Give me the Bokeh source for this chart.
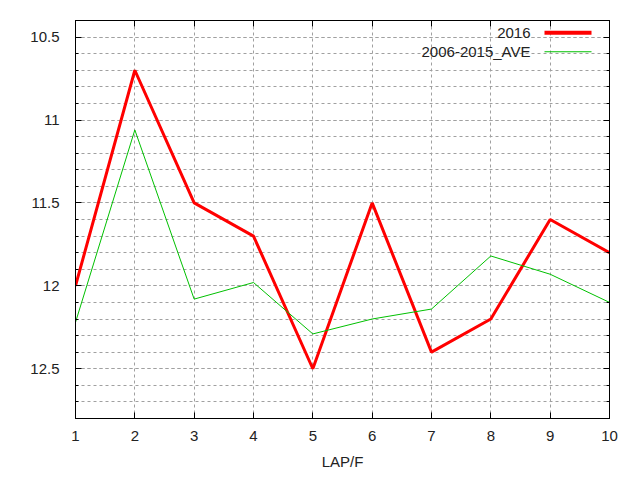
from bokeh.plotting import figure
from bokeh.models import (Range1d, FixedTicker, LinearAxis, Label, BoxAnnotation,
                          ColumnDataSource)
from bokeh.embed import file_html
from bokeh.resources import INLINE

# ---- data ----
laps = [1, 2, 3, 4, 5, 6, 7, 8, 9, 10]
y2016 = [12.0, 10.7, 11.5, 11.7, 12.5, 11.5, 12.4, 12.2, 11.6, 11.8]
y_ave = [12.22, 11.06, 12.08, 11.98, 12.29, 12.20, 12.14, 11.82, 11.93, 12.10]
series_names = ["2016", "2006-2015_AVE"]
x_ticks = [1, 2, 3, 4, 5, 6, 7, 8, 9, 10]
y_major = [10.5, 11.0, 11.5, 12.0, 12.5]
y_minor = [10.4, 10.5, 10.6, 10.7, 10.8, 10.9, 11.0, 11.1, 11.2, 11.3, 11.4, 11.5,
           11.6, 11.7, 11.8, 11.9, 12.0, 12.1, 12.2, 12.3, 12.4, 12.5, 12.6, 12.7, 12.8]
x_label = "LAP/F"

FONT = "Liberation Sans"
FS = "15px"
RED = "#ff0000"
GREEN = "#00c000"
GRID = "#a0a0a0"

W, H = 632, 472
ML, MR, MT, MB = 75, 23, 20, 53
FRAME_H = H - MT - MB

p = figure(width=W, height=H, output_backend="svg", toolbar_location=None,
           x_range=Range1d(1, 10), y_range=Range1d(12.8, 10.4),
           min_border_left=ML, min_border_right=MR, min_border_top=MT,
           min_border_bottom=MB, x_axis_label=x_label)
p.outline_line_color = "black"
p.outline_line_width = 1
p.background_fill_color = "white"
p.border_fill_color = "white"

xt = FixedTicker(ticks=x_ticks)
yt = FixedTicker(ticks=y_major, minor_ticks=y_minor)

def style_axis(ax, labels=True):
    ax.axis_line_color = "black"
    ax.major_tick_line_color = "black"
    ax.minor_tick_line_color = "black"
    ax.major_tick_in = 6
    ax.major_tick_out = 0
    ax.minor_tick_in = 3
    ax.minor_tick_out = 0
    if labels:
        ax.major_label_text_font = FONT
        ax.major_label_text_font_size = FS
        ax.major_label_text_color = "#222222"
    else:
        ax.major_label_text_font_size = "1px"
        ax.major_label_text_color = None
        ax.major_label_standoff = 0

xa = p.xaxis[0]
xa.ticker = xt
style_axis(xa)
xa.minor_tick_line_color = None
xa.major_label_standoff = 12
xa.axis_label_text_font = FONT
xa.axis_label_text_font_size = FS
xa.axis_label_text_font_style = "normal"
xa.axis_label_text_color = "#222222"
xa.axis_label_standoff = 9

ya = p.yaxis[0]
ya.ticker = yt
style_axis(ya)
ya.major_label_standoff = 16

top = LinearAxis(ticker=xt)
style_axis(top, labels=False)
top.minor_tick_line_color = None
p.add_layout(top, "above")

right = LinearAxis(ticker=yt)
style_axis(right, labels=False)
p.add_layout(right, "right")

p.xgrid.ticker = xt
p.ygrid.ticker = yt
for g in (p.xgrid[0], p.ygrid[0]):
    g.grid_line_color = GRID
    g.grid_line_dash = "3 3"
    g.grid_line_width = 1
p.ygrid[0].minor_grid_line_color = GRID
p.ygrid[0].minor_grid_line_dash = "3 3"

src = ColumnDataSource(dict(lap=laps, a=y2016, b=y_ave))
p.line("lap", "a", source=src, line_color=RED, line_width=3)
p.line("lap", "b", source=src, line_color=GREEN, line_width=1)

# gnuplot-style key: text right-aligned, sample line on the right
rows = [(series_names[0], RED, 4, 13.3), (series_names[1], GREEN, 1, 32.3)]
for name, col, lw, dy in rows:
    yc = FRAME_H - dy
    p.add_layout(Label(x=455, y=yc, x_units="screen", y_units="screen", text=name,
                       text_align="right", text_baseline="middle",
                       text_font=FONT, text_font_size=FS, text_color="#222222"))
    p.add_layout(BoxAnnotation(left=469, right=516, bottom=yc - lw / 2, top=yc + lw / 2,
                               left_units="screen", right_units="screen",
                               bottom_units="screen", top_units="screen",
                               fill_color=col, fill_alpha=1.0, line_color=None))

open("out.html", "w").write(file_html(p, INLINE))
